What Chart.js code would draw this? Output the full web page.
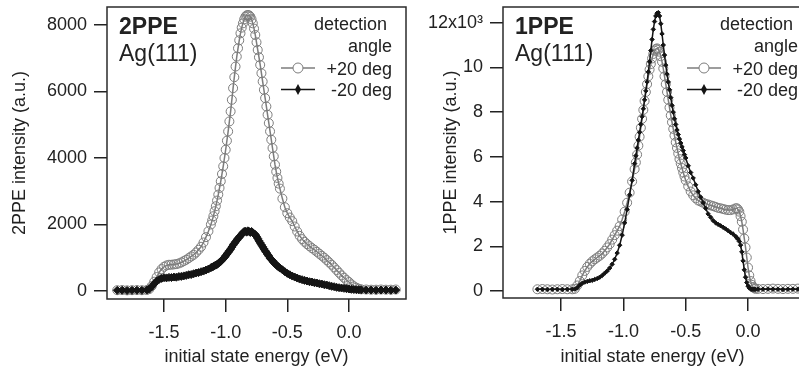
<!DOCTYPE html>
<html>
<head>
<meta charset="utf-8">
<script src="https://cdn.jsdelivr.net/npm/chart.js@4/dist/chart.umd.min.js"></script>
<style>
  html, body { margin: 0; padding: 0; background: #fff; overflow: hidden; }
  body { width: 799px; height: 370px; position: relative; }
  .panel { position: absolute; top: 0; width: 420px; height: 370px; }
</style>
</head>
<body>
<div class="panel" style="left:0"><canvas id="c2ppe" width="420" height="370"></canvas></div>
<div class="panel" style="left:400px"><canvas id="c1ppe" width="420" height="370"></canvas></div>
<script>
// ---- 2PPE panel (left) ----
const energy2 = [
  -1.88, -1.84, -1.80, -1.76, -1.72, -1.68, -1.64,
  -1.62, -1.60, -1.58, -1.56, -1.54, -1.52, -1.50, -1.48, -1.46, -1.44, -1.42, -1.40, -1.38,
  -1.36, -1.34, -1.32, -1.30, -1.28, -1.26, -1.24, -1.22, -1.20, -1.18, -1.16, -1.14, -1.12,
  -1.11, -1.10, -1.09, -1.08, -1.07, -1.06, -1.05, -1.04, -1.03, -1.02, -1.01, -1.00,
  -0.99, -0.98, -0.97, -0.96, -0.95, -0.94, -0.93, -0.92, -0.91, -0.90,
  -0.89, -0.88, -0.87, -0.86, -0.85, -0.84, -0.83, -0.82, -0.81, -0.80,
  -0.79, -0.78, -0.77, -0.76, -0.75, -0.74, -0.73, -0.72, -0.71, -0.70,
  -0.69, -0.68, -0.67, -0.66, -0.65, -0.64, -0.63, -0.62, -0.61, -0.60,
  -0.59, -0.58, -0.57, -0.56,
  -0.54, -0.52, -0.50, -0.48, -0.46, -0.44, -0.42, -0.40, -0.38, -0.36, -0.34, -0.32, -0.30,
  -0.28, -0.26, -0.24, -0.22, -0.20, -0.18, -0.16, -0.14, -0.12, -0.10, -0.08, -0.06, -0.04,
  -0.02, 0.00, 0.02, 0.04, 0.06, 0.08, 0.10,
  0.14, 0.18, 0.22, 0.26, 0.30, 0.34, 0.38
];
const plus20_2ppe = [
  25, 30, 20, 25, 30, 25, 30,
  60, 150, 280, 420, 560, 660, 730, 770, 790, 790, 800, 810, 830,
  860, 900, 940, 990, 1040, 1090, 1160, 1240, 1330, 1460, 1620, 1800, 2000,
  2120, 2250, 2400, 2550, 2720, 2900, 3100, 3300, 3520, 3750, 4000, 4250,
  4520, 4800, 5100, 5400, 5750, 6100, 6430, 6750, 7050, 7300,
  7540, 7750, 7920, 8050, 8170, 8250, 8290, 8300, 8290, 8250,
  8170, 8050, 7890, 7700, 7480, 7250, 7030, 6800, 6550, 6300,
  6050, 5800, 5550, 5300, 5050, 4800, 4550, 4300, 4050, 3800,
  3590, 3400, 3230, 3080,
  2780, 2520, 2340, 2210, 2100, 1940, 1790, 1660, 1560, 1480, 1410, 1350, 1290,
  1240, 1180, 1120, 1060, 1000, 930, 860, 790, 710, 630, 550, 470, 400,
  330, 270, 200, 140, 100, 70, 50,
  45, 40, 40, 45, 40, 40, 45
];
const minus20_2ppe = [
  20, 25, 15, 20, 25, 20, 30,
  60, 130, 220, 300, 350, 380, 400, 395, 410, 405, 420, 415, 435,
  440, 455, 470, 490, 495, 520, 540, 555, 580, 600, 630, 660, 700,
  720, 740, 760, 780, 800, 830, 860, 890, 930, 970, 1010, 1060,
  1110, 1160, 1210, 1260, 1320, 1380, 1430, 1480, 1530, 1580,
  1620, 1660, 1710, 1750, 1790, 1800, 1770, 1810, 1790, 1760,
  1790, 1750, 1720, 1700, 1640, 1580, 1510, 1450, 1390, 1330,
  1270, 1210, 1160, 1100, 1050, 990, 950, 910, 860, 820,
  790, 750, 720, 690,
  640, 580, 530, 490, 450, 420, 390, 360, 340, 320, 300, 280, 270,
  250, 240, 220, 210, 190, 180, 160, 140, 130, 110, 100, 90, 80,
  70, 60, 50, 45, 40, 40, 35,
  30, 30, 25, 30, 30, 25, 30
];
const yTicks2 = [0, 2000, 4000, 6000, 8000];

// ---- 1PPE panel (right), intensity in units of 10^3 ----
const energy1 = [
  -1.69, -1.65, -1.61, -1.57, -1.53, -1.49, -1.45, -1.41,
  -1.39, -1.37, -1.35, -1.33, -1.31, -1.29, -1.27, -1.25, -1.23, -1.21, -1.19, -1.17, -1.15,
  -1.13, -1.11, -1.09, -1.07, -1.05, -1.03, -1.01, -0.99, -0.97, -0.95, -0.93, -0.91,
  -0.90, -0.89, -0.88, -0.87, -0.86, -0.85, -0.84, -0.83, -0.82, -0.81,
  -0.80, -0.79, -0.78, -0.77, -0.76, -0.75, -0.74, -0.73, -0.72, -0.71,
  -0.70, -0.69, -0.68, -0.67, -0.66, -0.65, -0.64, -0.63, -0.62, -0.61,
  -0.60, -0.59, -0.58, -0.57, -0.56, -0.55, -0.54, -0.53, -0.52, -0.51, -0.50,
  -0.48, -0.46, -0.44, -0.42, -0.40, -0.38, -0.36, -0.34, -0.32, -0.30,
  -0.28, -0.26, -0.24, -0.22, -0.20, -0.18, -0.16, -0.14, -0.12, -0.10,
  -0.09, -0.08, -0.07, -0.06, -0.05, -0.04, -0.03, -0.02, -0.01, 0.00,
  0.01, 0.02, 0.03, 0.04, 0.05, 0.06,
  0.08, 0.12, 0.16, 0.20, 0.24, 0.28, 0.32, 0.36, 0.40, 0.44
];
const plus20_1ppe = [
  0.08, 0.09, 0.08, 0.07, 0.08, 0.09, 0.08, 0.08,
  0.10, 0.25, 0.45, 0.70, 0.90, 1.08, 1.22, 1.33, 1.42, 1.50, 1.58, 1.68, 1.80,
  1.95, 2.10, 2.30, 2.50, 2.70, 2.90, 3.20, 3.55, 3.95, 4.40, 4.90, 5.45,
  5.75, 6.10, 6.50, 6.90, 7.30, 7.70, 8.10, 8.50, 8.90, 9.25,
  9.60, 9.90, 10.15, 10.40, 10.60, 10.75, 10.82, 10.85, 10.80, 10.70,
  10.50, 10.25, 9.95, 9.60, 9.25, 8.90, 8.55, 8.20, 7.85, 7.55,
  7.25, 6.95, 6.65, 6.40, 6.15, 5.90, 5.70, 5.50, 5.30, 5.12, 4.95,
  4.68, 4.45, 4.28, 4.15, 4.05, 4.00, 3.95, 3.90, 3.87, 3.83,
  3.80, 3.76, 3.72, 3.70, 3.67, 3.64, 3.62, 3.62, 3.65, 3.70,
  3.70, 3.65, 3.55, 3.35, 3.10, 2.75, 2.35, 1.95, 1.50, 1.05,
  0.70, 0.45, 0.28, 0.18, 0.13, 0.10,
  0.10, 0.09, 0.10, 0.11, 0.10, 0.09, 0.10, 0.10, 0.11, 0.10
];
const minus20_1ppe = [
  0.08, 0.08, 0.07, 0.08, 0.08, 0.07, 0.08, 0.08,
  0.09, 0.15, 0.27, 0.35, 0.40, 0.43, 0.46, 0.48, 0.52, 0.56, 0.62, 0.70, 0.80,
  0.90, 1.03, 1.20, 1.42, 1.70, 2.05, 2.50, 3.05, 3.65, 4.30, 4.95, 5.70,
  6.05, 6.40, 6.75, 7.10, 7.45, 7.80, 8.15, 8.55, 8.95, 9.35,
  9.80, 10.25, 10.75, 11.25, 11.70, 12.05, 12.30, 12.42, 12.45, 12.30,
  11.95, 11.50, 11.00, 10.55, 10.10, 9.70, 9.35, 9.00, 8.65, 8.30,
  8.00, 7.70, 7.45, 7.20, 7.00, 6.80, 6.62, 6.45, 6.28, 6.10, 5.95,
  5.60, 5.30, 5.05, 4.75, 4.45, 4.20, 3.95, 3.70, 3.45, 3.30,
  3.15, 3.05, 2.98, 2.92, 2.85, 2.78, 2.70, 2.62, 2.55, 2.45,
  2.38, 2.32, 2.22, 2.05, 1.75, 1.35, 0.95, 0.62, 0.38, 0.22,
  0.14, 0.10, 0.08, 0.08, 0.08, 0.08,
  0.08, 0.08, 0.09, 0.08, 0.08, 0.07, 0.08, 0.08, 0.08, 0.08
];
const yTicks1 = [0, 2, 4, 6, 8, 10, 12];
const yLabels1 = ['0', '2', '4', '6', '8', '10', '12x10\u00B3'];

const xTicks = [-1.5, -1.0, -0.5, 0.0];
const seriesNames = ['+20 deg', '-20 deg'];

const FONT = '"Liberation Sans", Arial, Helvetica, sans-serif';
const GRAY = '#7c7c7c';
const BLACK = '#141414';
const INK = '#222222';

Chart.defaults.font.family = FONT;
Chart.defaults.font.size = 18;
Chart.defaults.color = INK;

function pairs(xs, ys) {
  return xs.map(function (x, i) { return { x: x, y: ys[i] }; });
}

// frame, panel label and the "detection angle" legend
const annotate = {
  id: 'annotate',
  afterDatasetsDraw: function (chart, args, opts) {
    const ctx = chart.ctx;
    const a = chart.chartArea;
    ctx.save();
    ctx.strokeStyle = '#2b2b2b';
    ctx.lineWidth = 1.5;
    ctx.strokeRect(a.left, a.top, a.right - a.left, a.bottom - a.top);

    ctx.fillStyle = INK;
    ctx.textAlign = 'left';
    ctx.textBaseline = 'alphabetic';
    ctx.font = 'bold 23px ' + FONT;
    ctx.fillText(opts.title, a.left + 12, 34);
    ctx.font = '23px ' + FONT;
    ctx.fillText('Ag(111)', a.left + 12, 61);

    const r = a.left + opts.legendX;
    ctx.font = '18px ' + FONT;
    ctx.textAlign = 'right';
    ctx.fillText('detection ', r, 30);
    ctx.fillText('angle', r, 51.5);

    chart.data.datasets.forEach(function (ds, i) {
      const y = 68 + i * 21.5;
      ctx.fillStyle = INK;
      ctx.fillText(ds.label, r, y + 6.5);
      ctx.strokeStyle = ds.borderColor;
      ctx.lineWidth = 1.5;
      ctx.beginPath();
      ctx.moveTo(r - 111, y);
      ctx.lineTo(r - 77, y);
      ctx.stroke();
      const mx = r - 94;
      ctx.beginPath();
      if (ds.pointStyle === 'circle') {
        ctx.fillStyle = '#ffffff';
        ctx.arc(mx, y, 5, 0, Math.PI * 2);
        ctx.fill();
        ctx.lineWidth = 1;
        ctx.stroke();
      } else {
        ctx.fillStyle = ds.borderColor;
        ctx.moveTo(mx, y - 5.5);
        ctx.lineTo(mx + 3, y);
        ctx.lineTo(mx, y + 5.5);
        ctx.lineTo(mx - 3, y);
        ctx.closePath();
        ctx.fill();
      }
    });
    ctx.restore();
  }
};

function makeChart(id, energies, plus, minus, cfg) {
  return new Chart(document.getElementById(id), {
    type: 'line',
    data: {
      datasets: [{
        label: seriesNames[0],
        data: pairs(energies, plus),
        borderColor: GRAY,
        borderWidth: 1.5,
        pointStyle: 'circle',
        pointRadius: 4.5,
        pointBorderWidth: 1,
        pointBorderColor: GRAY,
        pointBackgroundColor: 'rgba(0,0,0,0)',
        order: 1
      }, {
        label: seriesNames[1],
        data: pairs(energies, minus),
        borderColor: BLACK,
        borderWidth: cfg.blackWidth,
        pointStyle: 'rectRot',
        pointRadius: cfg.blackRadius,
        pointBorderWidth: 1,
        pointBorderColor: BLACK,
        pointBackgroundColor: BLACK,
        order: 0
      }]
    },
    options: {
      responsive: false,
      animation: false,
      events: [],
      layout: { padding: { top: 7, right: cfg.padRight, left: 0, bottom: 0 } },
      plugins: {
        legend: { display: false },
        tooltip: { enabled: false },
        annotate: { title: cfg.title, legendX: cfg.legendX }
      },
      scales: {
        x: {
          type: 'linear',
          min: cfg.xMin,
          max: cfg.xMax,
          afterBuildTicks: function (scale) { scale.ticks = xTicks.map(function (v) { return { value: v }; }); },
          afterFit: function (scale) {
            scale.height = cfg.xAxisH;
            scale.paddingLeft = 0;
            scale.paddingRight = 0;
          },
          ticks: {
            padding: 10,
            maxRotation: 0,
            autoSkip: false,
            callback: function (v) { return v.toFixed(1); }
          },
          grid: { drawOnChartArea: false, drawTicks: true, tickLength: 13, color: '#222', lineWidth: 1.5 },
          border: { display: false },
          title: { display: true, text: 'initial state energy (eV)', padding: { top: 0, bottom: 2 } }
        },
        y: {
          min: cfg.yMin,
          max: cfg.yMax,
          afterBuildTicks: function (scale) { scale.ticks = cfg.yTicks.map(function (v) { return { value: v }; }); },
          afterFit: function (scale) {
            scale.width = cfg.yAxisW;
            scale.paddingTop = 0;
            scale.paddingBottom = 0;
          },
          ticks: {
            padding: 7,
            autoSkip: false,
            callback: cfg.yLabel
          },
          grid: { drawOnChartArea: false, drawTicks: true, tickLength: 13, color: '#222', lineWidth: 1.5 },
          border: { display: false },
          title: { display: true, text: cfg.yTitle, padding: { top: cfg.yTitlePad, bottom: 0 } }
        }
      }
    },
    plugins: [annotate]
  });
}

makeChart('c2ppe', energy2, plus20_2ppe, minus20_2ppe, {
  title: '2PPE', legendX: 285, padRight: 14,
  xMin: -1.963, xMax: 0.463, xAxisH: 71,
  yMin: -240, yMax: 8541, yAxisW: 107, yTicks: yTicks2,
  yLabel: function (v) { return String(v); },
  yTitle: '2PPE intensity (a.u.)', yTitlePad: 9,
  blackWidth: 3, blackRadius: 4
});

makeChart('c1ppe', energy1, plus20_1ppe, minus20_1ppe, {
  title: '1PPE', legendX: 295, padRight: 18,
  xMin: -1.966, xMax: 0.433, xAxisH: 72,
  yMin: -0.31, yMax: 12.7, yAxisW: 103, yTicks: yTicks1,
  yLabel: function (v, i) { return yLabels1[i]; },
  yTitle: '1PPE intensity (a.u.)', yTitlePad: 40,
  blackWidth: 1.5, blackRadius: 2.2
});
</script>
</body>
</html>
